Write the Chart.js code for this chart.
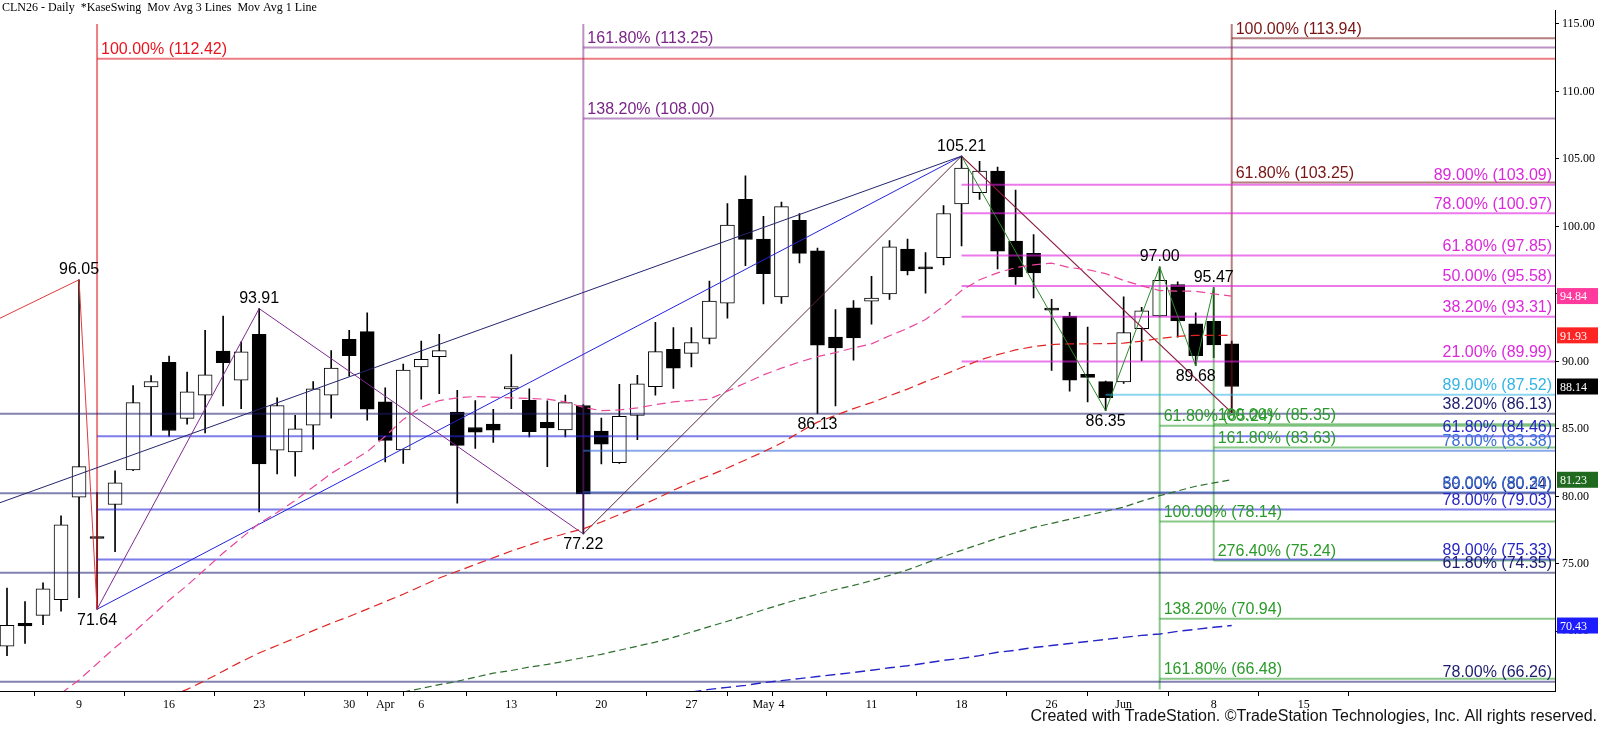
<!DOCTYPE html>
<html>
<head>
<meta charset="utf-8">
<script src="https://cdn.jsdelivr.net/npm/chart.js@4.4.1/dist/chart.umd.min.js"></script>
<style>
html, body { margin: 0; padding: 0; background: #fff; }
#wrap { width: 1600px; height: 731px; }
</style>
</head>
<body>
<div id="wrap"><canvas id="chart" width="1600" height="731"></canvas></div>
<script>
/* Price data, one entry per trading day (Mar 3 .. Jun 9) */
const opens = [68.9, 70.6, 71.18, 72.35, 79.94, 76.95, 79.4, 81.96, 88.1, 89.94, 85.78, 87.5, 90.77, 88.6, 92.0, 83.42, 83.3, 85.27, 87.5, 91.64, 92.2, 87.0, 83.44, 89.6, 90.35, 86.24, 85.1, 85.35, 87.97, 87.12, 85.49, 84.93, 86.73, 84.83, 82.5, 86.0, 88.12, 90.9, 90.6, 91.7, 94.32, 102.0, 99.06, 94.78, 100.45, 98.2, 91.8, 93.96, 94.47, 95.0, 98.33, 97.0, 97.68, 101.66, 102.5, 104.1, 98.92, 98.0, 93.85, 93.34, 89.05, 88.5, 88.48, 92.42, 93.37, 95.7, 92.79, 92.96, 91.3];
const highs = [73.2, 72.2, 73.6, 78.55, 96.05, 80.3, 81.9, 88.2, 88.95, 90.4, 89.2, 92.3, 93.35, 91.45, 93.91, 87.3, 86.0, 88.5, 90.8, 92.3, 93.6, 88.05, 89.8, 91.5, 92.0, 87.85, 87.1, 86.45, 90.5, 87.97, 87.07, 87.5, 86.8, 85.8, 88.3, 88.96, 92.9, 92.5, 92.5, 95.95, 101.7, 103.75, 100.75, 101.8, 100.95, 98.4, 93.83, 94.5, 96.3, 98.95, 99.06, 98.07, 101.55, 105.21, 104.83, 104.4, 102.7, 99.4, 94.6, 93.64, 92.55, 88.55, 94.78, 94.0, 97.0, 95.9, 93.6, 95.47, 91.5];
const lows = [68.2, 69.1, 70.5, 71.5, 72.5, 71.64, 75.9, 81.9, 84.5, 84.45, 85.35, 84.7, 86.7, 86.5, 78.85, 81.67, 81.5, 83.5, 85.8, 88.9, 85.65, 82.55, 82.45, 87.2, 87.6, 79.5, 83.55, 84.0, 86.5, 84.4, 82.2, 84.4, 77.22, 82.4, 82.45, 84.2, 87.5, 88.0, 89.6, 91.3, 93.2, 97.1, 94.25, 94.3, 97.3, 86.13, 86.7, 90.1, 92.75, 94.6, 96.4, 95.05, 97.14, 98.56, 102.0, 96.85, 95.7, 94.7, 89.33, 87.8, 87.0, 86.35, 88.36, 90.04, 93.3, 91.8, 89.68, 90.28, 86.2];
const closes = [70.45, 70.4, 73.15, 77.9, 82.2, 76.88, 81.0, 86.95, 88.5, 84.88, 87.75, 89.0, 89.9, 90.7, 82.4, 86.73, 85.0, 87.97, 89.5, 90.42, 86.46, 84.15, 89.36, 90.15, 90.8, 83.78, 84.75, 84.9, 88.14, 84.8, 85.07, 86.95, 80.18, 83.86, 85.93, 88.33, 90.72, 89.5, 91.4, 94.47, 100.1, 99.04, 96.5, 101.47, 98.0, 91.2, 91.0, 91.74, 94.7, 98.48, 96.7, 96.85, 100.96, 104.32, 104.1, 98.16, 96.26, 96.55, 93.8, 88.6, 88.82, 87.31, 92.13, 93.74, 96.0, 93.0, 90.42, 91.23, 88.14];

/* Moving averages (first value belongs to bar index xxStart) */
const fastStart = 3;
const fastMA = [65.4, 66.4, 67.6, 68.8, 69.9, 71.1, 72.3, 73.4, 74.6, 75.8, 76.9, 78.0, 78.8, 79.7, 80.7, 81.7, 82.5, 83.3, 84.45, 85.7, 86.6, 87.1, 87.3, 87.4, 87.35, 87.3, 87.25, 87.2, 87.0, 86.6, 86.35, 86.4, 86.55, 86.8, 87.0, 87.1, 87.2, 87.8, 88.4, 89.0, 89.5, 89.95, 90.35, 90.65, 91.0, 91.3, 91.9, 92.45, 93.1, 94.1, 95.25, 96.05, 96.56, 96.95, 97.15, 97.28, 96.95, 96.8, 96.5, 96.0, 95.6, 95.25, 95.2, 95.2, 95.0, 94.84];
const midStart = 9;
const midMA = [65.2, 65.7, 66.35, 67.05, 67.75, 68.4, 68.95, 69.5, 70.05, 70.6, 71.1, 71.65, 72.2, 72.75, 73.35, 73.95, 74.45, 74.95, 75.45, 75.95, 76.4, 76.85, 77.25, 77.6, 78.1, 78.65, 79.2, 79.8, 80.45, 81.05, 81.55, 82.1, 82.7, 83.3, 83.95, 84.75, 85.5, 86.0, 86.5, 86.95, 87.45, 87.95, 88.5, 89.0, 89.55, 90.1, 90.5, 90.85, 91.1, 91.25, 91.3, 91.3, 91.32, 91.35, 91.5, 91.7, 91.85, 91.93, 91.93, 91.93];
const slowStart = 22;
const slowMA = [65.5, 65.77, 66.05, 66.3, 66.6, 66.9, 67.1, 67.35, 67.55, 67.8, 68.05, 68.3, 68.6, 68.9, 69.2, 69.55, 69.95, 70.35, 70.75, 71.15, 71.6, 72.0, 72.4, 72.75, 73.1, 73.4, 73.75, 74.15, 74.55, 75.05, 75.55, 76.0, 76.45, 76.9, 77.3, 77.7, 78.0, 78.3, 78.6, 78.9, 79.2, 79.65, 80.05, 80.4, 80.75, 81.0, 81.23];
const longStart = 38;
const longMA = [65.5, 65.7, 65.85, 66.0, 66.2, 66.35, 66.5, 66.65, 66.8, 66.95, 67.12, 67.3, 67.45, 67.65, 67.85, 68.0, 68.2, 68.45, 68.6, 68.8, 68.95, 69.1, 69.25, 69.4, 69.55, 69.7, 69.8, 70.0, 70.15, 70.3, 70.43];

/* Date axis labels (bar index -> text) */
const tickPos = [4, 9, 14, 19, 21, 23, 28, 33, 38, 42, 43, 48, 53, 58, 62, 67, 72];
const tickText = ['9', '16', '23', '30', 'Apr', '6', '13', '20', '27', 'May', '4', '11', '18', '26', 'Jun', '8', '15'];
const priceTicks = [70, 75, 80, 85, 90, 95, 100, 105, 110, 115];

/* Swing point labels */
const swingIdx = [4, 14, 5, 32, 45, 53, 64, 67, 61, 66];
const swingVal = [96.05, 93.91, 71.64, 77.22, 86.13, 105.21, 97.00, 95.47, 86.35, 89.68];
const swingUp = [true, true, false, false, false, true, true, true, false, false];

/* Fibonacci levels */
const redLevels = [112.42], redTags = ['100.00%'];
const purpleLevels = [113.25, 108.00], purpleTags = ['161.80%', '138.20%'];
const maroonLevels = [113.94, 103.25], maroonTags = ['100.00%', '61.80%'];
const magentaLevels = [103.09, 100.97, 97.85, 95.58, 93.31, 89.99], magentaTags = ['89.00%', '78.00%', '61.80%', '50.00%', '38.20%', '21.00%'];
const cyanLevels = [87.52], cyanTags = ['89.00%'];
const navyLevels = [86.13, 80.24, 74.35, 66.26], navyTags = ['38.20%', '50.00%', '61.80%', '78.00%'];
const blueLevels = [84.46, 79.03, 75.33], blueTags = ['61.80%', '78.00%', '89.00%'];
const skyLevels = [83.38, 80.30], skyTags = ['78.00%', '89.00%'];
const greenALevels = [85.24, 78.14, 70.94, 66.48], greenATags = ['61.80%', '100.00%', '138.20%', '161.80%'];
const greenBLevels = [85.35, 83.63, 75.24], greenBTags = ['100.00%', '161.80%', '276.40%'];

/* Swing lines: bar index and price pairs */
const X_MIN = -0.389, X_MAX = 85.95;
const Y_MIN = 65.58, Y_MAX = 116.02;
const redZigX = [X_MIN, 4, 5], redZigY = [93.2, 96.05, 71.64];
const purpleZigX = [5, 14, 32], purpleZigY = [71.64, 93.91, 77.22];
const navyTrendX = [X_MIN, 53], navyTrendY = [79.53, 105.21];
const blueTrendX = [5, 53], blueTrendY = [71.64, 105.21];
const brownTrendX = [32, 53], brownTrendY = [77.22, 105.21];
const maroonTrendX = [53, 68], maroonTrendY = [105.21, 86.2];
const greenZigX = [53, 61, 64, 66, 67], greenZigY = [105.21, 86.35, 97.00, 89.68, 95.47];

/* Fib anchor verticals */
const vertIdx = [5, 32, 68, 64, 67];
const vertTop = [115, 115, 115, 97.00, 95.47];
const vertBottom = [71.64, 77.22, 86.2, 65.7, 75.24];

/* Build chart */
const fibGroups = [
    { levels: redLevels, tags: redTags, start: 5, line: 'rgba(220,20,30,0.55)', text: '#e8141e', align: 'left' },
    { levels: purpleLevels, tags: purpleTags, start: 32, line: 'rgba(122,36,136,0.5)', text: '#7a2488', align: 'left' },
    { levels: maroonLevels, tags: maroonTags, start: 68, line: 'rgba(122,20,20,0.55)', text: '#7a1414', align: 'left' },
    { levels: magentaLevels, tags: magentaTags, start: 53, line: 'rgba(224,32,224,0.6)', text: '#dc28dc', align: 'right' },
    { levels: cyanLevels, tags: cyanTags, start: 61, line: 'rgba(48,180,230,0.55)', text: '#30b4e6', align: 'right' },
    { levels: navyLevels, tags: navyTags, start: X_MIN, line: 'rgba(28,28,110,0.55)', text: '#1c1c6e', align: 'right' },
    { levels: blueLevels, tags: blueTags, start: 5, line: 'rgba(38,38,220,0.6)', text: '#2626c4', align: 'right' },
    { levels: skyLevels, tags: skyTags, start: 32, line: 'rgba(58,110,216,0.6)', text: '#3a6ed8', align: 'right' },
    { levels: greenALevels, tags: greenATags, start: 64, line: 'rgba(42,154,42,0.55)', text: '#2a9a2a', align: 'left' },
    { levels: greenBLevels, tags: greenBTags, start: 67, line: 'rgba(42,154,42,0.55)', text: '#2a9a2a', align: 'left' }
];
const vertColors = ['rgba(220,20,30,0.55)', 'rgba(122,36,136,0.5)', 'rgba(122,20,20,0.55)', 'rgba(42,154,42,0.55)', 'rgba(42,154,42,0.55)'];

function lineSet(xs, ys, color, width, order, dash) {
    return {
        type: 'line',
        data: xs.map((x, i) => ({ x: x, y: ys[i] })),
        borderColor: color,
        borderWidth: width,
        borderDash: dash || [],
        pointRadius: 0,
        fill: false,
        tension: 0,
        order: order
    };
}

function maSet(values, start, color, dash, width) {
    const xs = values.map((v, i) => start + i);
    return lineSet(xs, values, color, width, 0, dash);
}

const datasets = [];

// fib levels and anchors sit on top of the candles
fibGroups.forEach(g => {
    g.levels.forEach(lv => {
        datasets.push(lineSet([g.start, X_MAX], [lv, lv], g.line, 2, 5));
    });
});
vertIdx.forEach((v, i) => {
    datasets.push(lineSet([v, v], [vertTop[i], vertBottom[i]], vertColors[i], 2, 5));
});

// candle wicks and bodies as floating bars
datasets.push({
    type: 'bar',
    data: highs.map((h, i) => ({ x: i, y: [lows[i], h] })),
    backgroundColor: '#000',
    borderWidth: 0,
    barThickness: 1,
    grouped: false,
    order: 20
});
datasets.push({
    type: 'bar',
    data: opens.map((o, i) => ({ x: i, y: [o, closes[i]] })),
    backgroundColor: opens.map((o, i) => closes[i] >= o ? '#fff' : '#000'),
    borderColor: '#000',
    borderWidth: 1,
    borderSkipped: false,
    barThickness: 14,
    minBarLength: 2,
    grouped: false,
    order: 10
});

datasets.push(lineSet(redZigX, redZigY, '#e03a3a', 1, 1));
datasets.push(lineSet(purpleZigX, purpleZigY, '#7e2a90', 1, 1));
datasets.push(lineSet(navyTrendX, navyTrendY, '#24246e', 1, 1));
datasets.push(lineSet(blueTrendX, blueTrendY, '#2222dd', 1, 1));
datasets.push(lineSet(brownTrendX, brownTrendY, '#5a2a3a', 1, 1));
datasets.push(lineSet(maroonTrendX, maroonTrendY, '#8a1a40', 1.2, 1));
datasets.push(lineSet(greenZigX, greenZigY, '#2a8a2a', 1, 1));

datasets.push(maSet(fastMA, fastStart, '#e8479a', [9, 5], 1.2));
datasets.push(maSet(midMA, midStart, '#e02424', [9, 5], 1.2));
datasets.push(maSet(slowMA, slowStart, '#2e6e2e', [7, 4], 1.2));
datasets.push(maSet(longMA, longStart, '#2424c8', [10, 5], 1.4));

const serif = '"Liberation Serif", "Times New Roman", serif';
const sans = '"Liberation Sans", Arial, sans-serif';

const textPlugin = {
    id: 'chartTexts',
    afterDatasetsDraw(chart) {
        const { ctx, chartArea } = chart;
        const x = chart.scales.x, y = chart.scales.y;
        ctx.save();
        ctx.font = '16px ' + sans;
        ctx.textBaseline = 'bottom';
        fibGroups.forEach(g => {
            ctx.fillStyle = g.text;
            g.levels.forEach((lv, k) => {
                const label = g.tags[k] + ' (' + lv.toFixed(2) + ')';
                const py = y.getPixelForValue(lv) - 1;
                if (g.align === 'left') {
                    ctx.textAlign = 'left';
                    ctx.fillText(label, x.getPixelForValue(g.start) + 4, py);
                } else {
                    ctx.textAlign = 'right';
                    ctx.fillText(label, chartArea.right - 3, py);
                }
            });
        });
        // swing labels
        ctx.fillStyle = '#000';
        ctx.textAlign = 'center';
        swingIdx.forEach((idx, i) => {
            const px = x.getPixelForValue(idx);
            const py = y.getPixelForValue(swingVal[i]);
            if (swingUp[i]) {
                ctx.textBaseline = 'bottom';
                ctx.fillText(swingVal[i].toFixed(2), px, py - 2);
            } else {
                ctx.textBaseline = 'top';
                ctx.fillText(swingVal[i].toFixed(2), px, py + 3);
            }
        });
        ctx.restore();
    },
    afterDraw(chart) {
        const { ctx } = chart;
        const y = chart.scales.y;
        ctx.save();
        ctx.fillStyle = '#000';
        ctx.font = '12px ' + serif;
        ctx.textAlign = 'left';
        ctx.textBaseline = 'middle';
        ctx.fillText('CLN26 - Daily  *KaseSwing  Mov Avg 3 Lines  Mov Avg 1 Line', 2, 8);

        ctx.font = '16px ' + sans;
        ctx.textAlign = 'right';
        ctx.fillStyle = '#111';
        ctx.fillText('Created with TradeStation. \u00A9TradeStation Technologies, Inc. All rights reserved.', 1597, 717);

        // last value flags on the price axis
        const flags = [
            [fastMA[fastMA.length - 1], '#ff3a9c'],
            [midMA[midMA.length - 1], '#ff2424'],
            [closes[closes.length - 1], '#000000'],
            [slowMA[slowMA.length - 1], '#1f6a1f'],
            [longMA[longMA.length - 1], '#1c1cff']
        ];
        ctx.font = '12px ' + serif;
        ctx.textAlign = 'left';
        flags.forEach(f => {
            const py = y.getPixelForValue(f[0]);
            ctx.fillStyle = f[1];
            ctx.fillRect(1557, py - 8, 41, 16);
            ctx.fillStyle = '#fff';
            ctx.fillText(f[0].toFixed(2), 1560, py + 1);
        });
        ctx.restore();
    }
};

new Chart(document.getElementById('chart'), {
    type: 'bar',
    data: { datasets: datasets },
    options: {
        responsive: false,
        devicePixelRatio: 1,
        animation: false,
        layout: { padding: 0 },
        plugins: {
            legend: { display: false },
            tooltip: { enabled: false }
        },
        scales: {
            x: {
                type: 'linear',
                position: 'bottom',
                min: X_MIN,
                max: X_MAX,
                offset: false,
                grid: { drawOnChartArea: false, drawTicks: true, tickLength: 5, color: '#000' },
                border: { display: true, color: '#000', width: 1 },
                ticks: {
                    autoSkip: false,
                    maxRotation: 0,
                    color: '#000',
                    padding: 2,
                    font: { family: serif, size: 12 },
                    callback: function (v) {
                        const k = tickPos.indexOf(v);
                        return k >= 0 ? tickText[k] : '';
                    }
                },
                afterBuildTicks: function (s) {
                    s.ticks = tickPos.map(v => ({ value: v }));
                },
                afterFit: function (s) {
                    s.height = 40;
                }
            },
            y: {
                type: 'linear',
                position: 'right',
                min: Y_MIN,
                max: Y_MAX,
                offset: false,
                grid: { drawOnChartArea: false, drawTicks: true, tickLength: 4, color: '#000' },
                border: { display: true, color: '#000', width: 1 },
                ticks: {
                    color: '#000',
                    padding: 3,
                    font: { family: serif, size: 12 },
                    callback: function (v) {
                        return Number(v).toFixed(2);
                    }
                },
                afterBuildTicks: function (s) {
                    s.ticks = priceTicks.map(v => ({ value: v }));
                },
                afterFit: function (s) {
                    s.width = 45;
                }
            }
        }
    },
    plugins: [textPlugin]
});
</script>
</body>
</html>
